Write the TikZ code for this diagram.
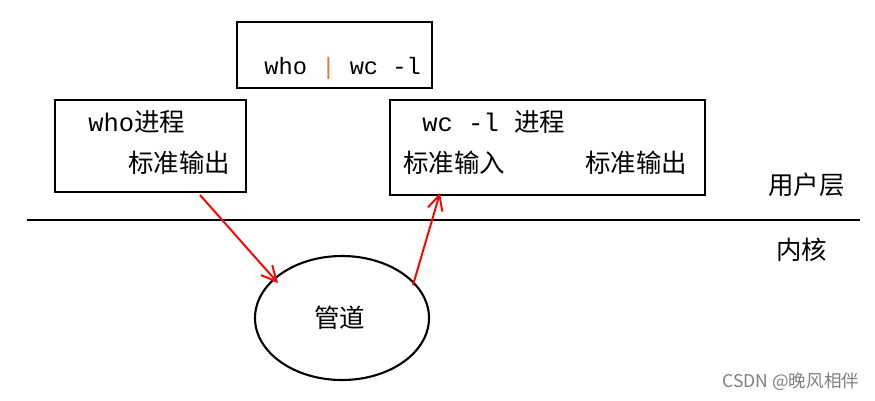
\documentclass[tikz,border=0pt]{standalone}
\usepackage{fontspec}
\setmainfont{Liberation Serif}
\setmonofont{Liberation Mono}
\newfontfamily\cjk{Noto Sans CJK SC}
\usetikzlibrary{arrows.meta}
\definecolor{barorange}{RGB}{230,120,60}
\tikzset{
  box/.style={draw, line width=1.2pt},
  lbl/.style={anchor=west, inner sep=0pt, font=\fontsize{14.5}{14.5}\selectfont},
  redarrow/.style={draw=red, line width=1.1pt, -{Straight Barb[length=3mm,width=3mm]}}
}
\begin{document}
\begin{tikzpicture}[x=0.02cm,y=-0.02cm]
\useasboundingbox (0,0) rectangle (875,400);
% boxes
\draw[box] (237,22) rectangle (432,88);
\node[lbl, font=\fontsize{13.5}{13.5}\selectfont] (cmd) at (264,68) {\ttfamily who {\color{barorange}|} wc -l};
\draw[box] (55,100) rectangle (246,192);
\node[lbl] (who) at (88,122) {\ttfamily who\cjk 进程};
\node[lbl] (whoout) at (128,163) {\cjk 标准输出};
\draw[box] (390,100) rectangle (705,195);
\node[lbl] (wc) at (422,122) {\ttfamily wc -l {\cjk 进程}};
\node[lbl] (wcin) at (403,163) {\cjk 标准输入};
\node[lbl] (wcout) at (585,163) {\cjk 标准输出};
% user/kernel split
\draw[line width=1.2pt] (27,220) -- (860,220);
\node[lbl] (user) at (768,185) {\cjk 用户层};
\node[lbl] (kernel) at (776,250) {\cjk 内核};
% pipe
\draw[line width=1.2pt] (342,318) ellipse [x radius=87, y radius=62];
\node[lbl] (pipe) at (314,318) {\cjk 管道};
\coordinate (a1) at (200,195);
\coordinate (a2) at (278,283);
\coordinate (b1) at (413,285);
\coordinate (b2) at (440,193);
\draw[redarrow] (a1) -- (a2);
\draw[redarrow] (b1) -- (b2);
\node[anchor=west, inner sep=0pt, text=gray, font=\fontsize{10}{10}\selectfont\cjk] (mark) at (722,382) {CSDN @晚风相伴};
\end{tikzpicture}
\end{document}
